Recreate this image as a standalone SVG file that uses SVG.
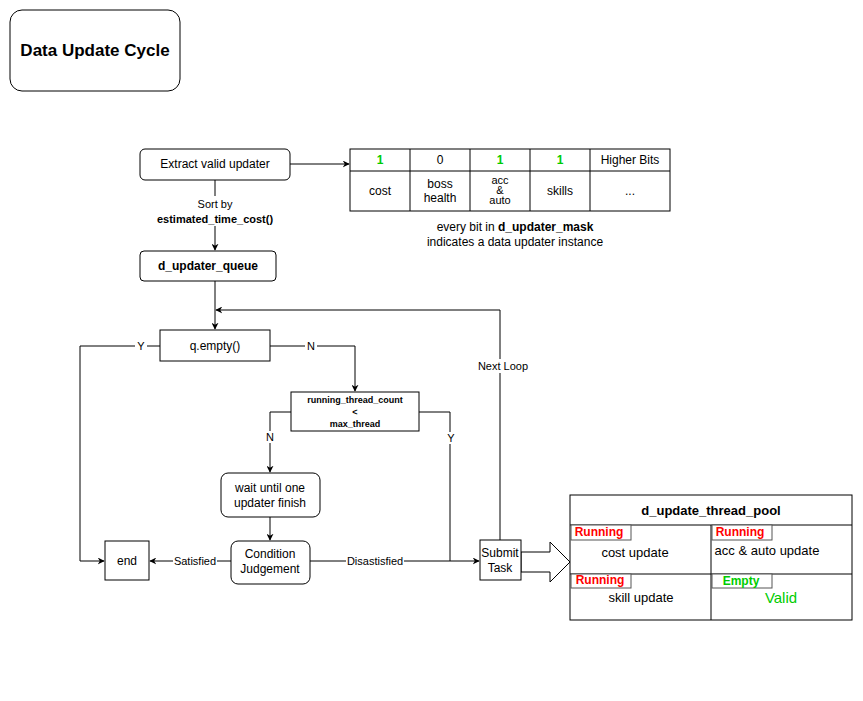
<svg xmlns="http://www.w3.org/2000/svg" width="863" height="701" viewBox="0 0 863 701">
<defs>
<marker id="ah" viewBox="0 0 10 10" refX="9" refY="5" markerWidth="7" markerHeight="7" orient="auto"><path d="M0,0 L10,5 L0,10 L3,5 z" fill="#000"/></marker>
<style>
text{font-family:"Liberation Sans",Arial,sans-serif;font-size:12px;fill:#000;text-anchor:middle;dominant-baseline:central}
.b{font-weight:bold}
.box{fill:#fff;stroke:#000;stroke-width:1}
.ln{fill:none;stroke:#000;stroke-width:1}
.lbl{font-size:11px}
.lb{fill:#fff}
.red{fill:#f00;font-weight:bold;font-size:12px}
.grn{fill:#0c0}
.sm{font-size:11px}
</style>
</defs>
<rect width="863" height="701" fill="#fff"/>
<g id="title"><rect class="box" x="10" y="10" width="170" height="81" rx="12"/><text x="95" y="50" class="b" style="font-size:17px">Data Update Cycle</text></g>
<g id="connectors">
<path class="ln" d="M290,164 H349" marker-end="url(#ah)"/>
<path class="ln" d="M215,180 V250" marker-end="url(#ah)"/>
<path class="ln" d="M215,281 V329" marker-end="url(#ah)"/>
<path class="ln" d="M500,540 V310 H216" marker-end="url(#ah)"/>
<path class="ln" d="M160,346 H80 V561 H104" marker-end="url(#ah)"/>
<path class="ln" d="M270,346 H355 V391" marker-end="url(#ah)"/>
<path class="ln" d="M291,412 H270 V472" marker-end="url(#ah)"/>
<path class="ln" d="M419,412 H450 V561"/>
<path class="ln" d="M270,517 V540" marker-end="url(#ah)"/>
<path class="ln" d="M231,561 H150" marker-end="url(#ah)"/>
<path class="ln" d="M310,561 H479" marker-end="url(#ah)"/>
<path class="box" d="M521,552 H550 V542 L570,562 L550,582 V572 H521 Z"/>
<rect class="lb" x="193" y="196" width="44" height="30"/>
<text x="215" y="204" class="lbl">Sort by</text>
<text x="215" y="219" class="lbl b">estimated_time_cost()</text>
<rect class="lb" x="476" y="359" width="55" height="14"/><text x="503" y="366" class="lbl">Next Loop</text>
<rect class="lb" x="135" y="340" width="12" height="12"/><text x="141" y="346" class="lbl">Y</text>
<rect class="lb" x="305" y="340" width="12" height="12"/><text x="311" y="346" class="lbl">N</text>
<rect class="lb" x="264" y="431" width="12" height="12"/><text x="270" y="437" class="lbl">N</text>
<rect class="lb" x="445" y="432" width="12" height="12"/><text x="451" y="438" class="lbl">Y</text>
<rect class="lb" x="173" y="555" width="44" height="12"/><text x="195" y="561" class="lbl">Satisfied</text>
<rect class="lb" x="346" y="555" width="58" height="12"/><text x="375" y="561" class="lbl">Disastisfied</text>
</g>
<g id="extract"><rect class="box" x="140" y="149" width="150" height="31" rx="5"/><text x="215" y="164">Extract valid updater</text></g>
<g id="mask">
<rect class="box" x="350" y="149" width="320" height="62"/>
<path class="ln" d="M350,171 H670 M410,149 V211 M470,149 V211 M530,149 V211 M590,149 V211"/>
<text x="380" y="160" class="b grn">1</text><text x="440" y="160">0</text><text x="500" y="160" class="b grn">1</text><text x="560" y="160" class="b grn">1</text><text x="630" y="160">Higher Bits</text>
<text x="380" y="191">cost</text><text x="440" y="184">boss</text><text x="440" y="198">health</text>
<text x="500" y="180" class="sm">acc</text><text x="500" y="190" class="sm">&amp;</text><text x="500" y="200" class="sm">auto</text>
<text x="560" y="191">skills</text><text x="630" y="191">...</text>
<text x="515" y="227">every bit in <tspan class="b">d_updater_mask</tspan></text>
<text x="515" y="242">indicates a data updater instance</text>
</g>
<g id="queue"><rect class="box" x="140" y="251" width="136" height="30" rx="4"/><text x="208" y="266" class="b">d_updater_queue</text></g>
<g id="qempty"><rect class="box" x="160" y="330" width="110" height="31"/><text x="215" y="346">q.empty()</text></g>
<g id="running"><rect class="box" x="291" y="392" width="128" height="39"/><text x="355" y="400" class="b" style="font-size:9px">running_thread_count</text><text x="355" y="412" class="b" style="font-size:9px">&lt;</text><text x="355" y="424" class="b" style="font-size:9px">max_thread</text></g>
<g id="wait"><rect class="box" x="221" y="473" width="99" height="44" rx="7"/><text x="270" y="488">wait until one</text><text x="270" y="503">updater finish</text></g>
<g id="cond"><rect class="box" x="231" y="541" width="79" height="43" rx="7"/><text x="270" y="554">Condition</text><text x="270" y="569">Judgement</text></g>
<g id="end"><rect class="box" x="105" y="541" width="44" height="39"/><text x="127" y="561">end</text></g>
<g id="submit"><rect class="box" x="480" y="540" width="41" height="40"/><text x="500" y="553">Submit</text><text x="500" y="568">Task</text></g>
<g id="pool">
<rect class="box" x="570" y="495" width="282" height="125"/>
<path class="ln" d="M570,525 H852 M711,525 V620 M570,574 H852"/>
<text x="711" y="510" class="b" style="font-size:13px">d_update_thread_pool</text>
<rect class="box" x="571" y="525" width="60" height="15" style="stroke:#555"/><text x="599" y="532" class="red">Running</text>
<rect class="box" x="712" y="525" width="60" height="15" style="stroke:#555"/><text x="740" y="532" class="red">Running</text>
<rect class="box" x="571" y="574" width="60" height="14" style="stroke:#555"/><text x="600" y="580" class="red">Running</text>
<rect class="box" x="712" y="574" width="60" height="14" style="stroke:#555"/><text x="741" y="581" class="b grn">Empty</text>
<text x="635" y="552" style="font-size:13px">cost update</text>
<text x="767" y="550" style="font-size:13px">acc &amp; auto update</text>
<text x="641" y="597" style="font-size:13px">skill update</text>
<text x="781" y="597" class="grn" style="font-size:15px">Valid</text>
</g>
</svg>
